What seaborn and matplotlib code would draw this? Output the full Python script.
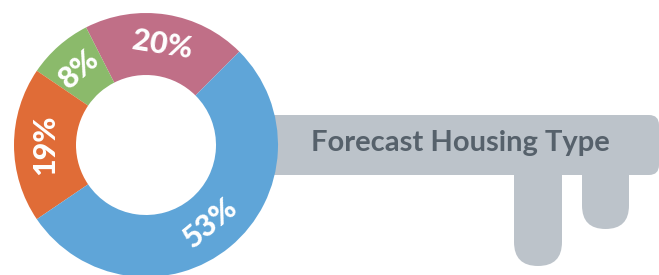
import numpy as np
import matplotlib
matplotlib.use("Agg")
import matplotlib.pyplot as plt
from matplotlib.patches import FancyBboxPatch
import seaborn as sns

# housing type shares, drawn counter-clockwise from the pink slice
labels = ["20%", "8%", "19%", "53%"]
shares = [20, 8, 19, 53]
colors = ["#c06f87", "#8bba6b", "#e06c37", "#5fa5d8"]
title = "Forecast Housing Type"

sns.set_style("white")
plt.rcParams["font.family"] = ["Lato", "DejaVu Sans"]

W, H = 659, 275
fig = plt.figure(figsize=(W / 100, H / 100), dpi=100)
ax = fig.add_axes([0, 0, 1, 1])

key_grey = "#bcc3ca"
# key shaft (left end hidden behind the donut ring)
ax.add_patch(FancyBboxPatch((235, 100), 424, 60, boxstyle="round,pad=0,rounding_size=10",
                            fc=key_grey, ec="none", zorder=1))
# key teeth
ax.add_patch(FancyBboxPatch((514, 9), 48, 140, boxstyle="round,pad=0,rounding_size=24",
                            fc=key_grey, ec="none", zorder=1))
ax.add_patch(FancyBboxPatch((582, 46), 47, 100, boxstyle="round,pad=0,rounding_size=23.5",
                            fc=key_grey, ec="none", zorder=1))
ax.text(311, 132, title, fontsize=21, fontweight="bold", color="#56616b",
        va="center", ha="left", zorder=3)

# donut
cx, cy, r = 146, 130, 132
wedges, _ = ax.pie(shares, colors=colors, startangle=45, counterclock=True,
                   radius=r, center=(cx, cy), frame=True,
                   wedgeprops=dict(width=62, edgecolor="none", linewidth=0))
for w in wedges:
    w.set_zorder(2)

ax.set_xlim(0, W)
ax.set_ylim(0, H)
ax.set_aspect("equal")
ax.axis("off")

for w, lab in zip(wedges, labels):
    mid = (w.theta1 + w.theta2) / 2
    rr = r - 31
    x = cx + rr * np.cos(np.radians(mid))
    y = cy + rr * np.sin(np.radians(mid))
    rot = mid - 90
    while rot > 90:
        rot -= 180
    while rot <= -90:
        rot += 180
    ax.text(x, y, lab, fontsize=22, fontweight="black", color="white",
            ha="center", va="center", rotation=rot, rotation_mode="anchor", zorder=4)

fig.savefig("out.png", dpi=100)
